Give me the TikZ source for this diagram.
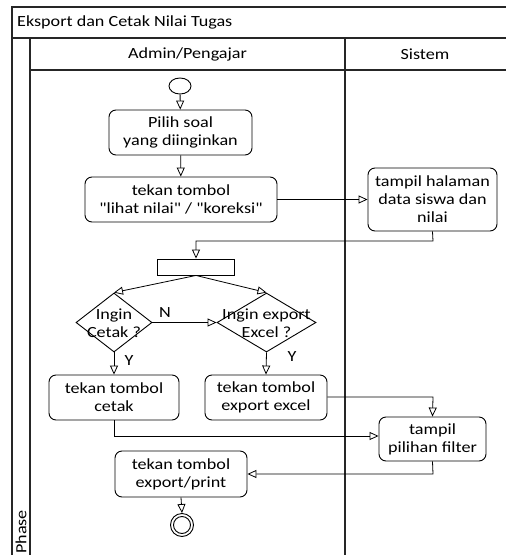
\documentclass[tikz,border=0pt]{standalone}
\usepackage{fontspec}
\setmainfont{Carlito}[FakeStretch=1.17, Ligatures=TeXOff]
\usetikzlibrary{arrows.meta,shapes.geometric}
\begin{document}
\begin{tikzpicture}[x=1pt,y=-1pt,
  txt/.style={align=center, inner sep=0pt, font=\fontsize{15.5}{18}\selectfont},
  act/.style={txt, draw, rounded corners=7pt, line width=0.9pt},
  frame/.style={draw, line width=1.3pt, black!85},
  flow/.style={draw, line width=0.8pt, -{Triangle[open,length=9pt,width=8pt]}},
  dec/.style={diamond, draw, line width=0.9pt, inner sep=0pt},
  lbl/.style={txt}
]
\useasboundingbox (0,0) rectangle (506,555);
% frame
\draw[frame] (506,7) -- (12,7) -- (12,555);
\draw[frame] (12,38) -- (506,38);
\draw[frame] (30,38) -- (30,555);
\draw[frame] (30,70) -- (506,70);
\draw[frame] (345,38) -- (345,555);
\node[txt, anchor=west] (title) at (17,22) {Eksport dan Cetak Nilai Tugas};
\node[txt] (lane1) at (187.5,54) {Admin/Pengajar};
\node[txt] (lane2) at (425,54) {Sistem};
\node[txt, rotate=90, anchor=west] (phase) at (21,554) {Phase};
% nodes
\node[draw, ellipse, line width=0.9pt, minimum width=22pt, minimum height=16pt, inner sep=0pt] (start) at (180,86) {};
\node[act, minimum width=143pt, minimum height=45pt] (pilih) at (180.5,132.5) {Pilih soal\\yang diinginkan};
\node[act, minimum width=192pt, minimum height=45pt] (lihat) at (181,199.5) {tekan tombol\\"lihat nilai" / "koreksi"};
\node[act, minimum width=129pt, minimum height=63pt] (halaman) at (432.5,199.5) {tampil halaman\\data siswa dan\\nilai};
\node[draw, line width=0.9pt, minimum width=77pt, minimum height=16pt, inner sep=0pt] (bar) at (196,267) {};
\node[dec, minimum width=76pt, minimum height=59pt] (dcetak) at (114,322.5) {};
\node[txt] (dcetakt) at (114,323) {Ingin\\Cetak ?};
\node[dec, minimum width=99pt, minimum height=59pt] (dexcel) at (266.5,322.5) {};
\node[txt] (dexcelt) at (266.5,323) {Ingin export\\Excel ?};
\node[act, minimum width=130pt, minimum height=45pt] (cetak) at (114,397.5) {tekan tombol\\cetak};
\node[act, minimum width=122pt, minimum height=45pt] (excel) at (266,397.5) {tekan tombol\\export excel};
\node[act, minimum width=107pt, minimum height=44pt] (filter) at (432.5,439) {tampil\\pilihan filter};
\node[act, minimum width=132pt, minimum height=46pt] (print) at (181,474) {tekan tombol\\export/print};
\node[draw, circle, line width=0.9pt, minimum width=23pt, inner sep=0pt] (end) at (182,525) {};
\node[draw, circle, line width=0.9pt, minimum width=17pt, inner sep=0pt] (endin) at (182,525) {};
% connectors
\coordinate (c1) at (433,241);
\coordinate (c2) at (196,241);
\coordinate (c3) at (433,397);
\coordinate (c4) at (114,436);
\coordinate (c5) at (433,474);
\draw[flow] (start) -- (pilih);
\draw[flow] (pilih) -- (lihat);
\draw[flow] (lihat.east) -- (halaman.west);
\draw[flow] (halaman.south) -- (c1) -- (c2) -- (bar.north);
\draw[flow] (bar.south) -- (dcetak.north);
\draw[flow] (bar.south) -- (dexcel.north);
\draw[flow] (dcetak.east) -- (dexcel.west);
\draw[flow] (dcetak.south) -- (cetak.north);
\draw[flow] (dexcel.south) -- (excel.north);
\draw[flow] (excel.east |- c3) -- (c3) -- (filter.north);
\draw[flow] (cetak.south) -- (c4) -- (filter.west |- c4);
\draw[flow] (filter.south) -- (c5) -- (print.east);
\draw[flow] (print.south) -- (end.north);
\node[lbl] (n) at (165,313) {N};
\node[lbl] (y1) at (129,361) {Y};
\node[lbl] (y2) at (292,357) {Y};
\end{tikzpicture}
\end{document}
